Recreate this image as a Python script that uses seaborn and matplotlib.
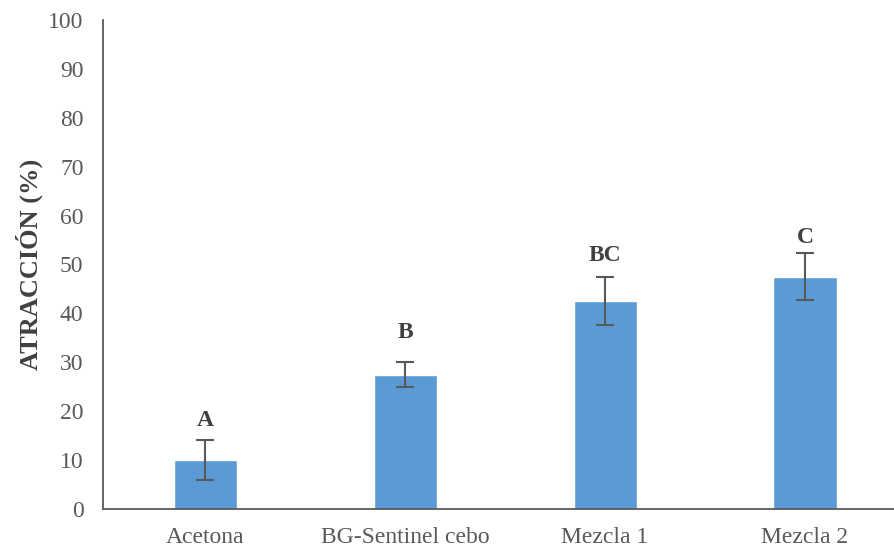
import matplotlib
matplotlib.use("Agg")
import matplotlib.pyplot as plt
import seaborn as sns
import pandas as pd

# Attraction results per treatment
categories = ["Acetona", "BG-Sentinel cebo", "Mezcla 1", "Mezcla 2"]
attraction = [10.0, 27.5, 42.5, 47.5]
error = [4.1, 2.5, 4.9, 4.8]
groups = ["A", "B", "BC", "C"]
group_y = [17.0, 35.0, 50.8, 54.4]
y_ticks = list(range(0, 101, 10))

df = pd.DataFrame({"tratamiento": categories, "atraccion": attraction})

sns.set_style("white")
plt.rcParams["font.family"] = ["Liberation Serif", "DejaVu Serif"]

fig = plt.figure(figsize=(8.95, 5.48), dpi=100)
W, H = 895, 548
ax = fig.add_axes([103 / W, (H - 509) / H, (895 - 103) / W, (509 - 20) / H])

bar_color = "#5B9BD5"
text_color = "#595959"

sns.barplot(data=df, x="tratamiento", y="atraccion", color=bar_color,
            width=0.315, saturation=1, errorbar=None, ax=ax)
ax.errorbar(range(len(categories)), attraction, yerr=error, fmt="none",
            ecolor="#595959", elinewidth=1.5, capsize=6.5, capthick=1.5)

for i, (g, gy) in enumerate(zip(groups, group_y)):
    ax.text(i, gy, g, ha="center", va="baseline", fontsize=17,
            fontweight="bold", color="#404040")

ax.set_xlim(-0.51, 3.45)
ax.set_ylim(0, 100)
ax.set_yticks(y_ticks)
ax.tick_params(axis="both", length=0, labelsize=17, labelcolor=text_color)
ax.tick_params(axis="y", pad=14)
ax.tick_params(axis="x", pad=13)
ax.set_xlabel("")
ax.set_ylabel("ATRACCIÓN (%)", fontsize=19, fontweight="bold",
              color="#404040", labelpad=4)

for side in ["top", "right"]:
    ax.spines[side].set_visible(False)
for side in ["left", "bottom"]:
    ax.spines[side].set_color("#595959")
    ax.spines[side].set_linewidth(1.3)

fig.savefig("out.png", dpi=100)
